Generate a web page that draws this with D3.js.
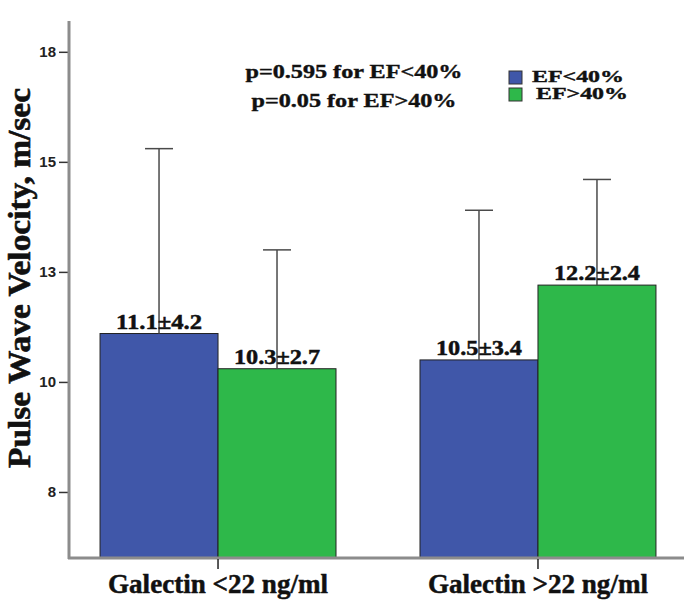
<!DOCTYPE html>
<html>
<head>
<meta charset="utf-8">
<script src="https://cdn.jsdelivr.net/npm/d3@7"></script>
<style>
  html, body { margin: 0; padding: 0; background: #fff; }
  svg { display: block; }
</style>
</head>
<body>
<svg id="chart" width="697" height="605"></svg>
<script>
// ---- data ----
const categories = ["Galectin <22 ng/ml", "Galectin >22 ng/ml"];
const seriesNames = ["EF<40%", "EF>40%"];
const meansEFlow = [11.1, 10.5];   // EF<40%
const sdEFlow = [4.2, 3.4];
const meansEFhigh = [10.3, 12.2];  // EF>40%
const sdEFhigh = [2.7, 2.4];
const tickValues = [7.5, 10, 12.5, 15, 17.5];
const tickLabels = ["8", "10", "13", "15", "18"];
const pTexts = ["p=0.595 for EF<40%", "p=0.05 for EF>40%"];
const yTitle = "Pulse Wave Velocity, m/sec";

const colors = ["#4057A9", "#2EB84A"];

const rows = [];
categories.forEach((c, i) => {
  rows.push({cat: c, series: seriesNames[0], mean: meansEFlow[i], sd: sdEFlow[i]});
  rows.push({cat: c, series: seriesNames[1], mean: meansEFhigh[i], sd: sdEFhigh[i]});
});

const svg = d3.select("#chart");
const serif = "'Liberation Serif'";
const sans = "'Liberation Sans', Arial, sans-serif";

const axisX = 69, axisBottom = 558, axisTop = 21, axisRight = 684;

const y = d3.scaleLinear().domain([6, 18.2]).range([axisBottom, axisTop]);
const x0 = d3.scaleBand().domain(categories).range([69, 687])
  .paddingInner(0.2625).paddingOuter(0.097);
const x1 = d3.scaleBand().domain(seriesNames).range([0, x0.bandwidth()]);
const color = d3.scaleOrdinal().domain(seriesNames).range(colors);

function heavy(sel, w) {
  return sel.attr("stroke", "#111").attr("stroke-width", w).attr("paint-order", "fill")
    .style("font-family", serif);
}

// bars
const g = svg.append("g");
g.selectAll("rect.bar").data(rows).enter().append("rect")
  .attr("class", "bar")
  .attr("x", d => x0(d.cat) + x1(d.series))
  .attr("y", d => y(d.mean))
  .attr("width", x1.bandwidth())
  .attr("height", d => y(6) - y(d.mean))
  .attr("fill", d => color(d.series))
  .attr("stroke", "#222")
  .attr("stroke-width", 1);

// error bars
const cx = d => x0(d.cat) + x1(d.series) + x1.bandwidth() / 2;
g.selectAll("line.err").data(rows).enter().append("line")
  .attr("x1", cx).attr("x2", cx)
  .attr("y1", d => y(d.mean)).attr("y2", d => y(d.mean + d.sd))
  .attr("stroke", "#4a4a4a").attr("stroke-width", 1.5);
g.selectAll("line.cap").data(rows).enter().append("line")
  .attr("x1", d => cx(d) - 14).attr("x2", d => cx(d) + 14)
  .attr("y1", d => y(d.mean + d.sd)).attr("y2", d => y(d.mean + d.sd))
  .attr("stroke", "#4a4a4a").attr("stroke-width", 1.5);

// value labels
heavy(g.selectAll("text.val").data(rows).enter().append("text")
  .attr("x", cx)
  .attr("y", d => y(d.mean) - 5)
  .attr("text-anchor", "middle")
  .attr("font-weight", "bold").attr("font-size", 22)
  .attr("textLength", 86).attr("lengthAdjust", "spacingAndGlyphs")
  .attr("fill", "#111")
  .text(d => d.mean.toFixed(1) + "±" + d.sd.toFixed(1)), 0.5);

// y axis
const yAxis = d3.axisLeft(y).tickValues(tickValues)
  .tickFormat((d, i) => tickLabels[i]).tickSize(9).tickPadding(3);
const ya = svg.append("g").attr("transform", `translate(${axisX - 1},0)`).call(yAxis);
ya.select(".domain").remove();
ya.selectAll(".tick line").attr("stroke", "#333").attr("stroke-width", 1.5);
ya.selectAll(".tick text").attr("font-family", sans).attr("font-weight", "bold")
  .attr("font-size", 15).attr("fill", "#222");

// axis lines
svg.append("line").attr("x1", axisX).attr("x2", axisX).attr("y1", axisTop).attr("y2", axisBottom + 1)
  .attr("stroke", "#8c8c8c").attr("stroke-width", 3);
svg.append("line").attr("x1", axisX - 1).attr("x2", axisRight).attr("y1", axisBottom).attr("y2", axisBottom)
  .attr("stroke", "#8c8c8c").attr("stroke-width", 3);

// x axis
const xAxis = d3.axisBottom(x0).tickSize(10).tickPadding(18);
const xa = svg.append("g").attr("transform", `translate(0,${axisBottom + 1})`).call(xAxis);
xa.select(".domain").remove();
xa.selectAll(".tick line").attr("stroke", "#222").attr("stroke-width", 1.5);
heavy(xa.selectAll(".tick text").attr("font-weight", "bold")
  .attr("font-size", 28).attr("fill", "#111").attr("dy", "0.2em")
  .attr("textLength", 220).attr("lengthAdjust", "spacingAndGlyphs"), 0.5);

// y title
heavy(svg.append("text")
  .attr("transform", "translate(30,278) rotate(-90)")
  .attr("text-anchor", "middle")
  .attr("font-weight", "bold").attr("font-size", 32)
  .attr("textLength", 380).attr("lengthAdjust", "spacingAndGlyphs")
  .attr("fill", "#111")
  .text(yTitle), 0.6);

// p-value annotation
const pLens = [217, 205];
const pY = [78, 107];
pTexts.forEach((t, i) => {
  heavy(svg.append("text")
    .attr("x", 354).attr("y", pY[i]).attr("text-anchor", "middle")
    .attr("font-weight", "bold").attr("font-size", 19)
    .attr("textLength", pLens[i]).attr("lengthAdjust", "spacingAndGlyphs")
    .attr("fill", "#111").text(t), 0.4);
});

// legend
const legY = [71, 88];
const legTX = [532, 536];
const legend = svg.append("g");
seriesNames.forEach((s, i) => {
  legend.append("rect").attr("x", 509).attr("y", legY[i]).attr("width", 13).attr("height", 13)
    .attr("fill", color(s)).attr("stroke", "#333").attr("stroke-width", 1);
  heavy(legend.append("text").attr("x", legTX[i]).attr("y", legY[i] + 11)
    .attr("font-weight", "bold").attr("font-size", 17)
    .attr("textLength", 92).attr("lengthAdjust", "spacingAndGlyphs")
    .attr("fill", "#111").text(s), 0.4);
});
</script>
</body>
</html>
